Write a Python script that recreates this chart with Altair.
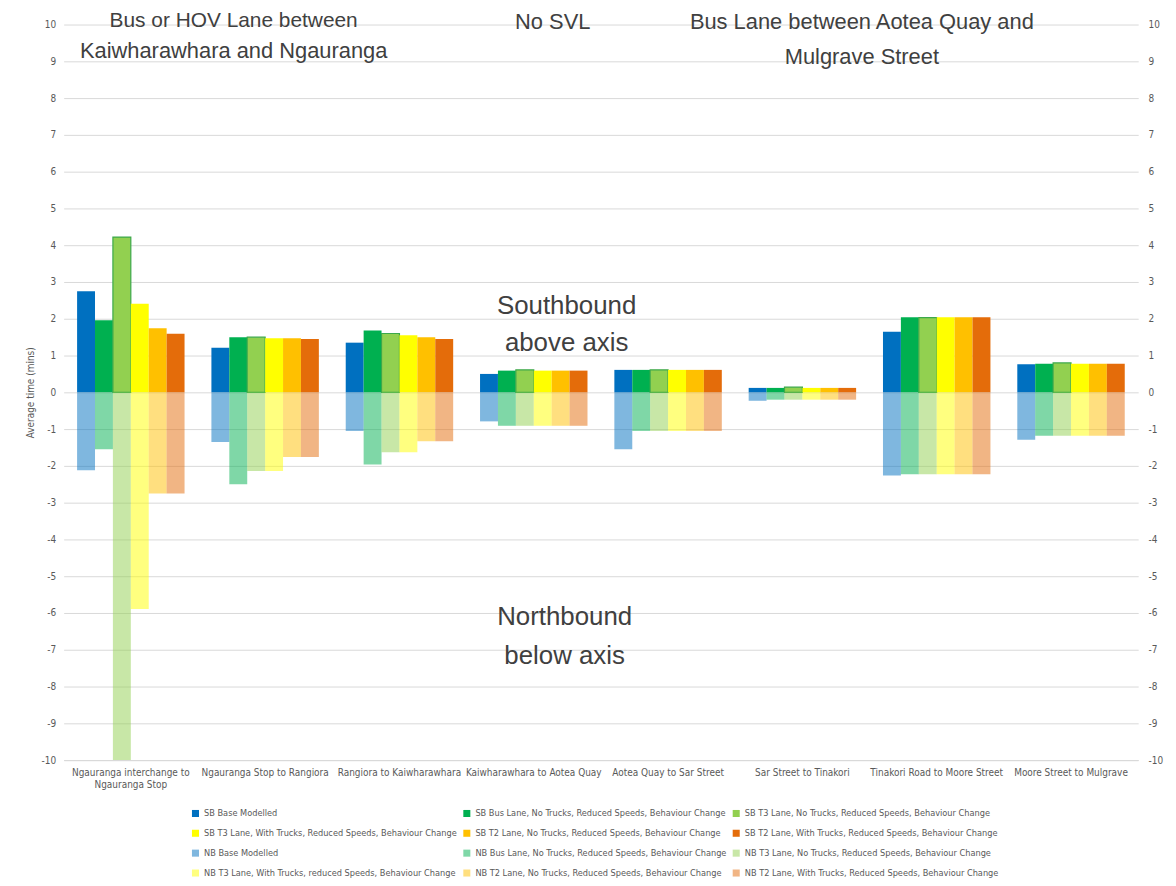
import altair as alt
import pandas as pd

categories = [
    "Ngauranga interchange to Ngauranga Stop",
    "Ngauranga Stop to Rangiora",
    "Rangiora to Kaiwharawhara",
    "Kaiwharawhara to Aotea Quay",
    "Aotea Quay to Sar Street",
    "Sar Street to Tinakori",
    "Tinakori Road to Moore Street",
    "Moore Street to Mulgrave",
]

scenarios = ["Base", "Bus", "T3 no trucks", "T3 with trucks", "T2 no trucks", "T2 with trucks"]

series_names = [
    "SB Base Modelled",
    "SB Bus Lane, No Trucks, Reduced Speeds, Behaviour Change",
    "SB T3 Lane, No Trucks, Reduced Speeds, Behaviour Change",
    "SB T3 Lane, With Trucks, Reduced Speeds, Behaviour Change",
    "SB T2 Lane, No Trucks, Reduced Speeds, Behaviour Change",
    "SB T2 Lane, With Trucks, Reduced Speeds, Behaviour Change",
    "NB Base Modelled",
    "NB Bus Lane, No Trucks, Reduced Speeds, Behaviour Change",
    "NB T3 Lane, No Trucks, Reduced Speeds, Behaviour Change",
    "NB T3 Lane, With Trucks, reduced Speeds, Behaviour Change",
    "NB T2 Lane, No Trucks, Reduced Speeds, Behaviour Change",
    "NB T2 Lane, With Trucks, Reduced Speeds, Behaviour Change",
]

sb_base = [2.75, 1.21, 1.35, 0.50, 0.61, 0.12, 1.65, 0.76]
sb_bus = [1.96, 1.50, 1.68, 0.59, 0.61, 0.12, 2.04, 0.78]
sb_t3_no = [4.22, 1.50, 1.60, 0.61, 0.61, 0.14, 2.03, 0.80]
sb_t3_with = [2.41, 1.47, 1.55, 0.59, 0.61, 0.12, 2.04, 0.78]
sb_t2_no = [1.74, 1.47, 1.50, 0.59, 0.61, 0.12, 2.04, 0.78]
sb_t2_with = [1.59, 1.45, 1.45, 0.59, 0.61, 0.12, 2.04, 0.78]
nb_base = [-2.12, -1.35, -1.05, -0.79, -1.55, -0.23, -2.26, -1.29]
nb_bus = [-1.55, -2.50, -1.96, -0.91, -1.05, -0.20, -2.23, -1.18]
nb_t3_no = [-10.0, -2.14, -1.63, -0.91, -1.05, -0.20, -2.23, -1.18]
nb_t3_with = [-5.89, -2.14, -1.63, -0.91, -1.05, -0.20, -2.23, -1.18]
nb_t2_no = [-2.75, -1.76, -1.33, -0.91, -1.05, -0.20, -2.23, -1.18]
nb_t2_with = [-2.75, -1.76, -1.33, -0.91, -1.05, -0.20, -2.23, -1.18]

series_values = [sb_base, sb_bus, sb_t3_no, sb_t3_with, sb_t2_no, sb_t2_with,
                 nb_base, nb_bus, nb_t3_no, nb_t3_with, nb_t2_no, nb_t2_with]

colors = [
    "#0070C0", "#00B050", "#92D050", "#FFFF00", "#FFC000", "#E46C0A",
    "rgba(0,112,192,0.5)", "rgba(0,176,80,0.5)", "rgba(146,208,80,0.5)",
    "rgba(255,255,0,0.5)", "rgba(255,192,0,0.5)", "rgba(228,108,10,0.5)",
]

rows = []
for si, (name, vals) in enumerate(zip(series_names, series_values)):
    for ci, cat in enumerate(categories):
        rows.append({"category": cat, "series": name,
                     "scenario": scenarios[si % 6], "value": vals[ci]})
df = pd.DataFrame(rows)

LABEL_FONT = "Liberation Sans Narrow, DejaVu Sans Condensed, Liberation Sans"
GRAY = "#595959"
ydomain = [-10, 10]
yticks = list(range(-10, 11))

x_enc = alt.X("category:N", sort=categories, title=None,
              scale=alt.Scale(paddingInner=0.2, paddingOuter=0.1),
              axis=alt.Axis(labelAngle=0, labelLimit=200, labelPadding=8,
                            domain=True, domainColor="#D9D9D9", ticks=False,
                            labelExpr="datum.label == 'Ngauranga interchange to Ngauranga Stop' ? ['Ngauranga interchange to', 'Ngauranga Stop'] : datum.label"))
xoff = alt.XOffset("scenario:N", sort=scenarios,
                   scale=alt.Scale(paddingInner=0, paddingOuter=0))

bars = alt.Chart(df).mark_bar(clip=True).encode(
    x=x_enc,
    xOffset=xoff,
    y=alt.Y("value:Q", title="Average time (mins)",
            scale=alt.Scale(domain=ydomain, nice=False),
            axis=alt.Axis(values=yticks, grid=True, gridColor="#D9D9D9",
                          domain=False, ticks=False, labelPadding=8,
                          labelExpr="'' + datum.value",
                          titlePadding=6, titleFontWeight="normal",
                          titleFont=LABEL_FONT, titleFontSize=10, titleColor=GRAY)),
    color=alt.Color("series:N", sort=series_names,
                    scale=alt.Scale(domain=series_names, range=colors),
                    legend=alt.Legend(title=None, orient="none", legendX=128, legendY=789,
                                      direction="horizontal",
                                      columns=3, symbolType="square", symbolSize=50,
                                      symbolStrokeWidth=0, labelFont=LABEL_FONT,
                                      labelFontSize=9.2, labelColor=GRAY,
                                      rowPadding=10, columnPadding=5, labelLimit=400)),
    stroke=alt.condition(
        alt.datum.series == "SB T3 Lane, No Trucks, Reduced Speeds, Behaviour Change",
        alt.value("#3CA84A"), alt.value(None)),
    strokeWidth=alt.condition(
        alt.datum.series == "SB T3 Lane, No Trucks, Reduced Speeds, Behaviour Change",
        alt.value(1.2), alt.value(0)),
)

right_axis = alt.Chart(df).mark_bar(opacity=0).encode(
    x=alt.X("category:N", sort=categories),
    xOffset=xoff,
    y=alt.Y("value:Q", title=None,
            scale=alt.Scale(domain=ydomain, nice=False),
            axis=alt.Axis(orient="right", values=yticks, grid=False, domain=False,
                          ticks=False, labelPadding=10, labelExpr="'' + datum.value")),
)

annotations = [
    ("Bus or HOV Lane between", 171, -4, 21),
    ("Kaiwharawhara and Ngauranga", 171, 27, 22),
    ("No SVL", 492, -3, 22),
    ("Bus Lane between Aotea Quay and", 803, -3, 22),
    ("Mulgrave Street", 803, 33, 22),
    ("Southbound", 506, 283, 26),
    ("above axis", 506, 320, 26),
    ("Northbound", 504, 596, 26),
    ("below axis", 504, 635, 26),
]
text_layers = []
for txt, tx, ty, fs in annotations:
    text_layers.append(
        alt.Chart(pd.DataFrame({"t": [txt]})).mark_text(
            font="Liberation Sans", fontSize=fs, color="#404040",
            align="center", baseline="middle"
        ).encode(text="t:N", x=alt.value(tx), y=alt.value(ty))
    )

chart = alt.layer(bars, right_axis, *text_layers).resolve_scale(
    y="independent"
).properties(
    width=1081, height=740,
    autosize=alt.AutoSizeParams(type="none"),
    padding={"left": 56, "top": 14, "right": 30, "bottom": 120},
).configure_view(stroke=None).configure_axis(
    labelFont=LABEL_FONT, labelFontSize=10, labelColor=GRAY,
)

chart.save("out.html", embed_options={"renderer": "svg", "actions": False})
